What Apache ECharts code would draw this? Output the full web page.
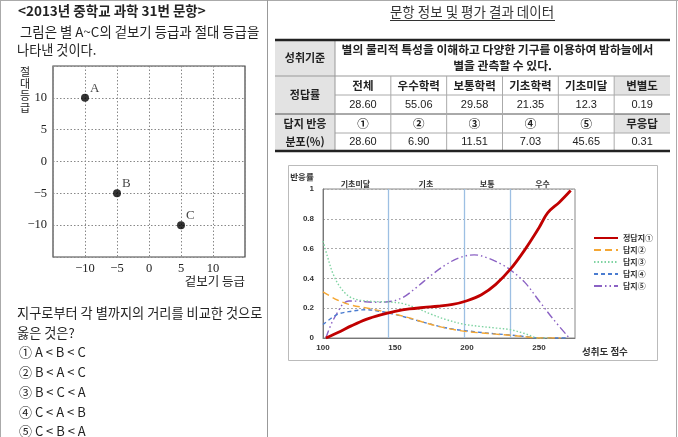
<!DOCTYPE html>
<html lang="ko">
<head>
<meta charset="utf-8">
<title>2013년 중학교 과학 31번 문항</title>
<script src="https://cdn.jsdelivr.net/npm/echarts@6/dist/echarts.min.js"></script>
<style>
  body { margin: 0; background: #fff; }
  #main { width: 678px; height: 437px; }
</style>
</head>
<body>
<div id="main"></div>
<script>
// 별 A~C : 겉보기 등급 / 절대 등급
var starNames = ['A', 'B', 'C'];
var apparentMag = [-10, -5, 5];
var absoluteMag = [10, -5, -10];

// 문항 정보 표
var tableCols = ['전체', '우수학력', '보통학력', '기초학력', '기초미달', '변별도'];
var correctRate = ['28.60', '55.06', '29.58', '21.35', '12.3', '0.19'];
var choiceLabels = ['①', '②', '③', '④', '⑤', '무응답'];
var choiceRate = ['28.60', '6.90', '11.51', '7.03', '45.65', '0.31'];

// 성취도 점수별 답지 반응률 [점수, 반응률]
var seriesNames = ['정답지①', '답지②', '답지③', '답지④', '답지⑤'];
var resp1 = [[102,0],[110,0.035],[120,0.083],[130,0.125],[140,0.155],[150,0.178],[160,0.195],[170,0.205],[180,0.213],[190,0.225],[200,0.25],[210,0.29],[220,0.36],[230,0.46],[240,0.59],[250,0.74],[256,0.84],[264,0.91],[272,0.99]];
var resp2 = [[100,0.31],[110,0.255],[120,0.22],[130,0.202],[140,0.182],[150,0.16],[160,0.135],[170,0.105],[180,0.078],[190,0.058],[200,0.043],[210,0.034],[220,0.026],[230,0.018],[240,0.009],[250,0],[265,0]];
var resp3 = [[100,0.65],[103,0.55],[107,0.43],[112,0.34],[118,0.28],[125,0.255],[135,0.245],[145,0.242],[155,0.232],[165,0.2],[175,0.16],[185,0.125],[198,0.092],[210,0.077],[220,0.067],[230,0.056],[240,0.03],[250,0],[258,0]];
var resp4 = [[100,0.09],[110,0.158],[120,0.18],[130,0.19],[140,0.178],[150,0.158],[160,0.132],[170,0.105],[180,0.08],[190,0.06],[200,0.048],[210,0.037],[220,0.028],[230,0.02],[240,0.01],[250,0],[270,0]];
var resp5 = [[102,0],[106,0.1],[110,0.17],[114,0.23],[118,0.248],[125,0.247],[135,0.24],[145,0.243],[155,0.27],[165,0.34],[175,0.42],[185,0.49],[195,0.54],[205,0.558],[215,0.535],[225,0.49],[230,0.458],[240,0.375],[250,0.25],[260,0.125],[271,0]];

// 성취수준 구간
var levelNames = ['기초미달', '기초', '보통', '우수'];
var levelCuts = [100, 145, 198, 230, 275];

// 보기
var choices = ['① A < B < C', '② B < A < C', '③ B < C < A', '④ C < A < B', '⑤ C < B < A'];

var KR = '"Noto Sans CJK KR", sans-serif';
var SERIF = '"Liberation Serif", "DejaVu Serif", serif';
var NUM = '"Liberation Sans", "Noto Sans CJK KR", sans-serif';

var chart = echarts.init(document.getElementById('main'));

function txt(x, y, s, opt) {
    opt = opt || {};
    return {
        type: 'text', x: x, y: y, silent: true,
        style: {
            text: s, fill: opt.color || '#222',
            font: (opt.weight || 'normal') + ' ' + (opt.size || 12) + 'px ' + (opt.family || KR),
            textAlign: opt.align || 'left', textVerticalAlign: 'middle',
            lineHeight: opt.lineHeight
        }
    };
}
function ln(x1, y1, x2, y2, color, w) {
    return { type: 'line', silent: true, shape: { x1: x1, y1: y1, x2: x2, y2: y2 },
             style: { stroke: color, lineWidth: w } };
}

var graphics = [];
// 바깥 테두리와 구분선
graphics.push(ln(0, 0.5, 678, 0.5, '#aaa', 1));
graphics.push(ln(0.5, 0, 0.5, 437, '#aaa', 1));
graphics.push(ln(676.5, 0, 676.5, 437, '#aaa', 1));
graphics.push(ln(267.5, 0, 267.5, 437, '#999', 1));

// 왼쪽 문항 텍스트
graphics.push(txt(18, 11, '<2013년 중학교 과학 31번 문항>', { weight: 'bold', size: 13.5 }));
graphics.push(txt(20, 32, '그림은 별 A~C의 겉보기 등급과 절대 등급을', { size: 13.4 }));
graphics.push(txt(17, 50, '나타낸 것이다.', { size: 13.2 }));
graphics.push({ type: 'text', x: 25, y: 66, silent: true,
    style: { text: '절\n대\n등\n급', font: 'normal 11px ' + KR, fill: '#222', lineHeight: 12, textAlign: 'center' } });
graphics.push(txt(245, 281, '겉보기 등급', { size: 12.5, align: 'right' }));
graphics.push(txt(17, 313, '지구로부터 각 별까지의 거리를 비교한 것으로', { size: 13.2 }));
graphics.push(txt(17, 333, '옳은 것은?', { size: 13.2 }));
choices.forEach(function (s, i) {
    graphics.push(txt(19, 352.5 + i * 19.7, s, { size: 13 }));
});

// 오른쪽 제목
graphics.push(txt(472, 12, '문항 정보 및 평가 결과 데이터', { size: 13.5, align: 'center', color: '#333' }));
graphics.push(ln(390, 20.5, 555, 20.5, '#333', 1));

// 표
var tL = 275, tR = 670, hR = 335;
var colW = (tR - hR) / 6;
var rows = [40, 76, 95, 114, 133, 151];
var gray = '#e3e3e3';
graphics.push({ type: 'rect', silent: true, shape: { x: tL, y: rows[0], width: hR - tL, height: rows[5] - rows[0] }, style: { fill: gray } });
graphics.push({ type: 'rect', silent: true, shape: { x: hR + colW * 5, y: rows[1], width: colW, height: rows[2] - rows[1] }, style: { fill: gray } });
graphics.push({ type: 'rect', silent: true, shape: { x: hR + colW * 5, y: rows[3], width: colW, height: rows[4] - rows[3] }, style: { fill: gray } });
graphics.push(ln(tL, rows[1], tR, rows[1], '#999', 1));
graphics.push(ln(hR, rows[2], tR, rows[2], '#aaa', 1));
graphics.push(ln(tL, rows[3], tR, rows[3], '#555', 1));
graphics.push(ln(hR, rows[4], tR, rows[4], '#aaa', 1));
graphics.push(ln(hR, rows[0], hR, rows[5], '#999', 1));
for (var c = 1; c < 6; c++) {
    graphics.push(ln(hR + colW * c, rows[1], hR + colW * c, rows[5], '#aaa', 1));
}
graphics.push(ln(tL, rows[0], tR, rows[0], '#222', 2.5));
graphics.push(ln(tL, rows[5], tR, rows[5], '#222', 2.5));

graphics.push(txt((tL + hR) / 2, 58, '성취기준', { weight: 'bold', size: 11, align: 'center' }));
graphics.push(txt((hR + tR) / 2 - 5, 50, '별의 물리적 특성을 이해하고 다양한 기구를 이용하여 밤하늘에서', { weight: 'bold', size: 11.8, align: 'center' }));
graphics.push(txt((hR + tR) / 2, 66, '별을 관측할 수 있다.', { weight: 'bold', size: 11.8, align: 'center' }));
graphics.push(txt((tL + hR) / 2, 95, '정답률', { weight: 'bold', size: 11, align: 'center' }));
graphics.push(txt((tL + hR) / 2, 124, '답지 반응', { weight: 'bold', size: 11, align: 'center' }));
graphics.push(txt((tL + hR) / 2, 142, '분포(%)', { weight: 'bold', size: 11, align: 'center' }));
for (var k = 0; k < 6; k++) {
    var cx = hR + colW * (k + 0.5);
    graphics.push(txt(cx, 86, tableCols[k], { weight: 'bold', size: 11.5, align: 'center' }));
    graphics.push(txt(cx, 105, correctRate[k], { size: 11, align: 'center', family: NUM }));
    graphics.push(txt(cx, 124, choiceLabels[k], { weight: 'bold', size: 11.5, align: 'center' }));
    graphics.push(txt(cx, 142, choiceRate[k], { size: 11, align: 'center', family: NUM }));
}

// 그래프 틀
graphics.push({ type: 'rect', silent: true, shape: { x: 288.5, y: 165.5, width: 369, height: 195 },
    style: { fill: 'none', stroke: '#bbb', lineWidth: 1 } });
graphics.push(txt(302, 177, '반응률', { weight: 'bold', size: 8.5, align: 'center', color: '#333' }));
graphics.push(txt(582, 351, '성취도 점수', { weight: 'bold', size: 9.5, color: '#333' }));

function magLabel(v) {
    if (Math.abs(v) > 10) return '';
    return v < 0 ? '\u2212' + Math.abs(v) : String(v);
}

var lineStyles = [
    { color: '#c00000', width: 2.8, type: 'solid' },
    { color: '#f5a733', width: 1.4, type: [7, 4] },
    { color: '#7fd3a2', width: 1.4, type: [1.5, 2] },
    { color: '#4a7cd0', width: 1.4, type: [4, 3] },
    { color: '#8b62c4', width: 1.4, type: [8, 3, 1.5, 3, 1.5, 3] }
];
var respData = [resp1, resp2, resp3, resp4, resp5];

var lineSeries = respData.map(function (d, i) {
    var s = {
        name: seriesNames[i], type: 'line', xAxisIndex: 1, yAxisIndex: 1,
        data: d, smooth: 0.35, symbol: 'none', z: 10 - i,
        lineStyle: lineStyles[i], itemStyle: { color: lineStyles[i].color }
    };
    if (i === 0) {
        s.z = 20;
        s.markLine = {
            silent: true, symbol: 'none', label: { show: false },
            lineStyle: { color: '#9dbfe3', type: 'solid', width: 1.3 },
            data: levelCuts.slice(1, 4).map(function (v) { return { xAxis: v }; })
        };
        s.markArea = {
            silent: true,
            itemStyle: { color: 'rgba(0,0,0,0)' },
            label: { position: 'top', distance: 1, fontSize: 8, fontWeight: 'bold', color: '#333', fontFamily: KR },
            data: levelNames.map(function (n, j) {
                return [{ name: n, xAxis: levelCuts[j] }, { xAxis: levelCuts[j + 1] }];
            })
        };
    }
    return s;
});

var option = {
    animation: false,
    backgroundColor: '#fff',
    graphic: graphics,
    legend: {
        data: seriesNames,
        orient: 'vertical', left: 593, top: 234,
        itemWidth: 24, itemHeight: 10, itemGap: 4, padding: 0,
        itemStyle: { opacity: 0 },
        textStyle: { fontSize: 8, fontWeight: 'bold', color: '#333', fontFamily: KR }
    },
    grid: [
        { left: 53, top: 66, width: 192, height: 191, show: true, borderColor: '#444', borderWidth: 1.2 },
        { left: 323, top: 189, width: 252, height: 149, show: true, borderColor: '#888', borderWidth: 1 }
    ],
    xAxis: [
        {
            gridIndex: 0, type: 'value', min: -15, max: 15, interval: 5,
            axisLine: { show: false }, axisTick: { show: false },
            axisLabel: { formatter: magLabel, fontFamily: SERIF, fontSize: 12.5, color: '#222', margin: 5 },
            splitLine: { lineStyle: { type: [1.5, 2], color: '#888' } }
        },
        {
            gridIndex: 1, type: 'value', min: 100, max: 275, interval: 50,
            axisLine: { lineStyle: { color: '#777' } }, axisTick: { show: false },
            axisLabel: { showMaxLabel: false, fontSize: 8, fontWeight: 'bold', color: '#333', fontFamily: NUM, margin: 6 },
            splitLine: { show: false }
        }
    ],
    yAxis: [
        {
            gridIndex: 0, type: 'value', min: -15, max: 15, interval: 5,
            axisLine: { show: false }, axisTick: { show: false },
            axisLabel: { formatter: magLabel, fontFamily: SERIF, fontSize: 12.5, color: '#222', margin: 6 },
            splitLine: { lineStyle: { type: [1.5, 2], color: '#888' } }
        },
        {
            gridIndex: 1, type: 'value', min: 0, max: 1, interval: 0.2,
            axisLine: { show: true, lineStyle: { color: '#777' } }, axisTick: { show: false },
            axisLabel: { fontSize: 8, fontWeight: 'bold', color: '#333', fontFamily: NUM, margin: 9 },
            splitLine: { lineStyle: { type: [2, 2], color: '#aaa' } }
        }
    ],
    series: [
        {
            name: 'stars', type: 'scatter', xAxisIndex: 0, yAxisIndex: 0,
            data: apparentMag.map(function (x, i) { return { name: starNames[i], value: [x, absoluteMag[i]] }; }),
            symbolSize: 8, itemStyle: { color: '#000' },
            label: { show: true, formatter: '{b}', position: [9, -12], fontFamily: SERIF, fontSize: 13, color: '#111' }
        }
    ].concat(lineSeries)
};

chart.setOption(option);
</script>
</body>
</html>
